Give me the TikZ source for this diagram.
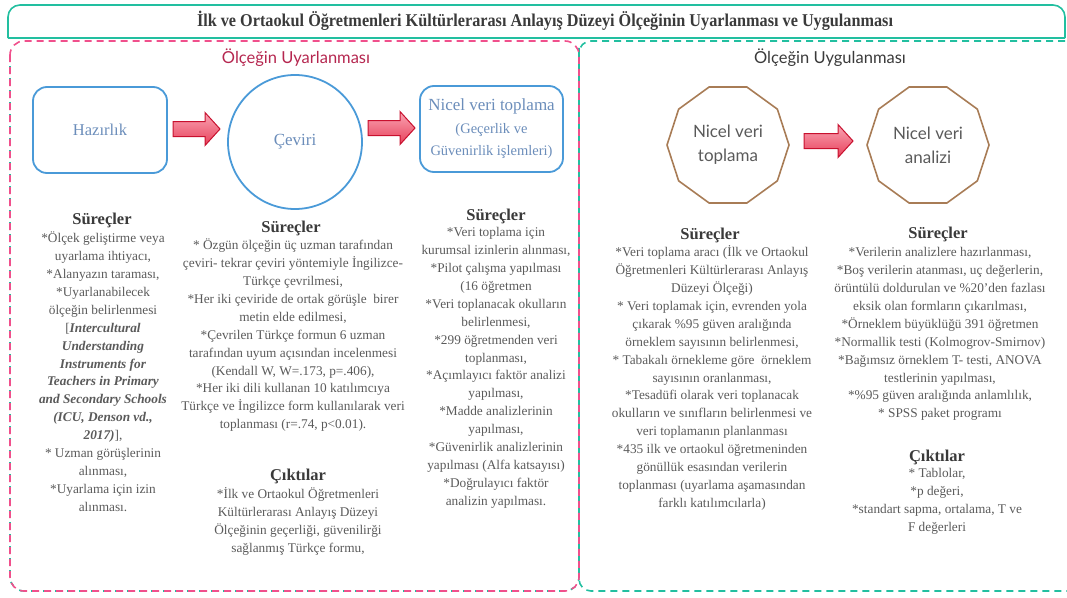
\documentclass[tikz,border=0pt]{standalone}
\usepackage{fontspec}
\setmainfont{Liberation Serif}
\newfontfamily\lato{Lato}
\usetikzlibrary{shapes.geometric}
\definecolor{teal1}{HTML}{22BFA0}
\definecolor{pink1}{HTML}{F0508C}
\definecolor{blue1}{HTML}{4A9AD8}
\definecolor{bluetext}{HTML}{6B8DBA}
\definecolor{brown1}{HTML}{A87C56}
\definecolor{txt}{HTML}{5A5A5A}
\definecolor{headc}{HTML}{3A3A3A}
\definecolor{crimson}{HTML}{B5264F}
\definecolor{afill1}{HTML}{F9A5B4}
\definecolor{afill2}{HTML}{E8405A}
\definecolor{aline}{HTML}{C8102E}
\newcommand\barrow[3]{%
  \draw[aline, line width=1pt, top color=afill1, bottom color=afill2]
   (#1,#3-7.5) -- (#2-15,#3-7.5) -- (#2-15,#3-16.5) -- (#2,#3) -- (#2-15,#3+16.5) -- (#2-15,#3+7.5) -- (#1,#3+7.5) -- cycle;}
\begin{document}
\begin{tikzpicture}[x=1pt,y=-1pt,
  bodytext/.style={font=\fontsize{13.3}{17.9}\selectfont, text=txt, align=center, inner sep=0pt, anchor=north},
  headtext/.style={font=\bfseries\fontsize{16.5}{20}\selectfont, text=headc, inner sep=0pt, anchor=base},
  bluebox/.style={draw=blue1, line width=1.8pt, rounded corners=14pt, minimum height=86pt, text=bluetext, align=center, inner sep=2pt},
  deca/.style={regular polygon, regular polygon sides=10, draw=brown1, line width=1.6pt, minimum size=122pt, inner sep=0pt, font=\lato\fontsize{17}{24}\selectfont, text=txt, align=center},
  frame/.style={line width=1.6pt}]
\useasboundingbox (0,0) rectangle (1067,597);
% frames
\draw[frame, teal1, rounded corners=12pt] (8,38) -- (8,5) -- (1065,5) -- (1065,38);
\draw[frame, teal1] (8,38) -- (1065,38);
\draw[frame, teal1, dash pattern=on 7pt off 5pt, rounded corners=12pt] (579,41) rectangle (1090,591);
\draw[frame, teal1, dash pattern=on 5pt off 7pt, dash phase=-6pt, rounded corners=14pt] (10,60) -- (10,591) -- (579,591) -- (579,41);
\draw[frame, pink1, dash pattern=on 7pt off 5pt, rounded corners=14pt] (10,41) rectangle (579,591);
% titles
\node[inner sep=0pt, text=headc] (title) at (545,21) {\resizebox{696pt}{\height}{\fontsize{18}{20}\selectfont\bfseries İlk ve Ortaokul Öğretmenleri Kültürlerarası Anlayış Düzeyi Ölçeğinin Uyarlanması ve Uygulanması}};
\node[inner sep=0pt, text=crimson, font=\lato\fontsize{16.5}{20}\selectfont] (t1) at (296,58) {Ölçeğin Uyarlanması};
\node[inner sep=0pt, text=headc, font=\lato\fontsize{16.5}{20}\selectfont] (t2) at (830,58) {Ölçeğin Uygulanması};
% left flow
\node[bluebox, minimum width=134pt, font=\fontsize{16.5}{20}\selectfont] (haz) at (100,130) {Hazırlık};
\node[circle, draw=blue1, line width=1.8pt, minimum size=134pt, text=bluetext, font=\fontsize{17}{20}\selectfont] (cev) at (295,142) {Çeviri};
\node[bluebox, minimum width=143pt, font=\fontsize{14.5}{22.5}\selectfont] (nvt) at (491.5,129) {{\fontsize{17}{22.5}\selectfont Nicel veri toplama}\\(Geçerlik ve\\Güvenirlik işlemleri)};
\barrow{173}{220}{129}
\barrow{368}{415}{128}
% right flow
\node[deca] (d1) at (728,145) {Nicel veri\\toplama};
\node[deca] (d2) at (928,145) {Nicel veri\\analizi};
\barrow{804}{853}{141}
% column 1
\node[headtext] (h1) at (102,224) {Süreçler};
\node[bodytext] (b1) at (103,230) {\rule{0pt}{12.5pt}*Ölçek geliştirme veya\\uyarlama ihtiyacı,\\*Alanyazın taraması,\\*Uyarlanabilecek\\ölçeğin belirlenmesi\\{[}\textbf{\textit{Intercultural}}\\\textbf{\textit{Understanding}}\\\textbf{\textit{Instruments for}}\\\textbf{\textit{Teachers in Primary}}\\\textbf{\textit{and Secondary Schools}}\\\textbf{\textit{(ICU, Denson vd.,}}\\\textbf{\textit{2017)}}],\\* Uzman görüşlerinin\\alınması,\\*Uyarlama için izin\\alınması.};
% column 2
\node[headtext] (h2) at (291,232) {Süreçler};
\node[bodytext] (b2) at (293,237) {\rule{0pt}{12.5pt}* Özgün ölçeğin üç uzman tarafından\\çeviri- tekrar çeviri yöntemiyle İngilizce-\\Türkçe çevrilmesi,\\*Her iki çeviride de ortak görüşle~ birer\\metin elde edilmesi,\\*Çevrilen Türkçe formun 6 uzman\\tarafından uyum açısından incelenmesi\\(Kendall W, W=.173, p=.406),\\*Her iki dili kullanan 10 katılımcıya\\Türkçe ve İngilizce form kullanılarak veri\\toplanması (r=.74, p<0.01).};
\node[headtext] (h2b) at (298,480) {Çıktılar};
\node[bodytext] (b2b) at (298,486) {\rule{0pt}{12.5pt}*İlk ve Ortaokul Öğretmenleri\\Kültürlerarası Anlayış Düzeyi\\Ölçeğinin geçerliği, güvenilirği\\sağlanmış Türkçe formu,};
% column 3
\node[headtext] (h3) at (496,220) {Süreçler};
\node[bodytext] (b3) at (496,224) {\rule{0pt}{12.5pt}*Veri toplama için\\kurumsal izinlerin alınması,\\*Pilot çalışma yapılması\\(16 öğretmen\\*Veri toplanacak okulların\\belirlenmesi,\\*299 öğretmenden veri\\toplanması,\\*Açımlayıcı faktör analizi\\yapılması,\\*Madde analizlerinin\\yapılması,\\*Güvenirlik analizlerinin\\yapılması (Alfa katsayısı)\\*Doğrulayıcı faktör\\analizin yapılması.};
% column 4
\node[headtext] (h4) at (710,239) {Süreçler};
\node[bodytext] (b4) at (712,244) {\rule{0pt}{12.5pt}*Veri toplama aracı (İlk ve Ortaokul\\Öğretmenleri Kültürlerarası Anlayış\\Düzeyi Ölçeği)\\* Veri toplamak için, evrenden yola\\çıkarak \%95 güven aralığında\\örneklem sayısının belirlenmesi,\\* Tabakalı örnekleme göre~ örneklem\\sayısının oranlanması,\\*Tesadüfi olarak veri toplanacak\\okulların ve sınıfların belirlenmesi ve\\veri toplamanın planlanması\\*435 ilk ve ortaokul öğretmeninden\\gönüllük esasından verilerin\\toplanması (uyarlama aşamasından\\farklı katılımcılarla)};
% column 5
\node[headtext] (h5) at (938,238) {Süreçler};
\node[bodytext] (b5) at (940,244) {\rule{0pt}{12.5pt}*Verilerin analizlere hazırlanması,\\*Boş verilerin atanması, uç değerlerin,\\örüntülü doldurulan ve \%20'den fazlası\\eksik olan formların çıkarılması,\\*Örneklem büyüklüğü 391 öğretmen\\*Normallik testi (Kolmogrov-Smirnov)\\*Bağımsız örneklem T- testi, ANOVA\\testlerinin yapılması,\\*\%95 güven aralığında anlamlılık,\\* SPSS paket programı};
\node[headtext] (h5b) at (937,461) {Çıktılar};
\node[bodytext] (b5b) at (937,465) {\rule{0pt}{12.5pt}* Tablolar,\\*p değeri,\\*standart sapma, ortalama, T ve\\F değerleri};
\end{tikzpicture}
\end{document}
